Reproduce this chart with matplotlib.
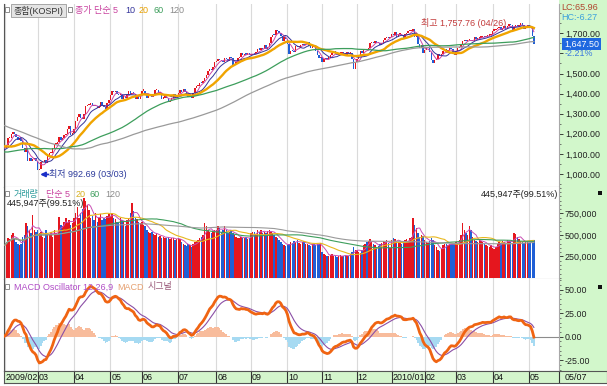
import numpy as np
import pandas as pd
import matplotlib
matplotlib.use('Agg')
import matplotlib.pyplot as plt
from matplotlib.patches import Rectangle
from matplotlib.ticker import FixedLocator, MultipleLocator

plt.rcParams['font.family'] = ['Liberation Sans', 'Noto Sans CJK KR']

# ---------------- data ----------------
# closes before the plotted window (Aug 2008 - Jan 2009), used only for MA / MACD warm-up
hist_close = [
    1583, 1567, 1563, 1561, 1571, 1576, 1568, 1548, 1552, 1538, 1520, 1530, 1523, 1527, 1500, 1510, 1505, 1490, 1474, 1474,
    1414, 1407, 1443, 1437, 1437, 1476, 1455, 1439, 1440, 1477, 1387, 1410, 1367, 1425, 1500, 1468, 1446, 1477, 1457, 1448,
    1440, 1419, 1358, 1366, 1286, 1295, 1241, 1291, 1320, 1340, 1213, 1180, 1193, 1185, 1134, 1049, 938, 946, 999, 1006, 1084, 1113,
    1124, 1146, 1181, 1092, 1096, 1150, 1127, 1108, 1073, 1088, 1102, 1075, 1062, 1004, 1003, 1028, 1043, 1040, 1068, 1076,
    1073, 1040, 1040, 1055, 1029, 1088, 1108, 1140, 1131, 1080, 1132, 1126, 1171, 1163, 1173, 1137, 1129, 1102, 1100, 1115, 1124,
    1157, 1173, 1194, 1206, 1181, 1168, 1135, 1111, 1124, 1088, 1110, 1126, 1123, 1097, 1117, 1093, 1120, 1140, 1162,
]

month_labels = ['2009/02', '03', '04', '05', '06', '07', '08', '09', '10', '11', '12',
                '2010/01', '02', '03', '04', '05']
month_days = [20, 22, 22, 19, 22, 23, 21, 22, 21, 21, 21, 20, 19, 22, 22, 4]

close = [
    # 2009/02
    1127, 1146, 1180, 1181, 1197, 1207, 1199, 1185, 1171, 1181, 1164, 1127, 1107, 1128, 1065, 1079, 1066, 1074, 1082, 1063,
    # 03
    1018, 1025, 1059, 1062, 1071, 1055, 1090, 1102, 1105, 1127, 1150, 1151, 1157, 1185, 1170, 1179, 1194, 1199, 1222, 1237, 1192, 1206,
    # 04
    1226, 1262, 1282, 1297, 1280, 1275, 1297, 1336, 1341, 1344, 1352, 1337, 1336, 1340, 1327, 1335, 1360, 1342, 1332, 1323, 1351, 1369,
    # 05
    1395, 1412, 1407, 1411, 1400, 1392, 1397, 1375, 1387, 1377, 1398, 1412, 1398, 1403, 1400, 1374, 1388, 1372, 1395,
    # 06
    1415, 1415, 1400, 1378, 1389, 1390, 1383, 1400, 1416, 1420, 1402, 1403, 1375, 1380, 1387, 1377, 1359, 1362, 1380, 1400, 1384, 1390,
    # 07
    1404, 1420, 1408, 1422, 1410, 1395, 1381, 1384, 1378, 1402, 1429, 1439, 1440, 1455, 1453, 1464, 1480, 1495, 1510, 1524, 1518, 1530, 1557,
    # 08
    1560, 1574, 1567, 1560, 1558, 1575, 1571, 1562, 1582, 1577, 1540, 1548, 1558, 1577, 1580, 1600, 1590, 1599, 1594, 1603, 1591,
    # 09
    1593, 1599, 1598, 1605, 1620, 1619, 1624, 1622, 1640, 1622, 1630, 1653, 1682, 1692, 1691, 1718, 1709, 1700, 1685, 1661, 1682, 1673,
    # 10
    1645, 1599, 1614, 1612, 1608, 1637, 1630, 1633, 1641, 1647, 1641, 1647, 1658, 1637, 1626, 1635, 1631, 1610, 1590, 1575, 1580,
    # 11
    1555, 1570, 1575, 1570, 1580, 1591, 1600, 1610, 1598, 1591, 1600, 1600, 1606, 1600, 1593, 1605, 1600, 1600, 1570, 1524, 1555,
    # 12
    1570, 1590, 1610, 1604, 1615, 1620, 1615, 1625, 1650, 1655, 1650, 1660, 1653, 1650, 1640, 1650, 1665, 1675, 1680, 1675, 1683,
    # 2010/01
    1697, 1690, 1705, 1684, 1695, 1695, 1693, 1671, 1695, 1701, 1709, 1709, 1713, 1722, 1684, 1685, 1647, 1626, 1640, 1602,
    # 02
    1616, 1626, 1627, 1605, 1567, 1552, 1566, 1571, 1595, 1587, 1598, 1613, 1620, 1604, 1615, 1626, 1620, 1600, 1594,
    # 03
    1610, 1627, 1630, 1647, 1660, 1665, 1663, 1666, 1666, 1660, 1662, 1680, 1670, 1674, 1679, 1681, 1688, 1680, 1685, 1689, 1690, 1692,
    # 04
    1713, 1714, 1720, 1725, 1730, 1715, 1724, 1735, 1722, 1734, 1745, 1740, 1715, 1730, 1740, 1735, 1740, 1752, 1740, 1720, 1725, 1741,
    # 05
    1735, 1730, 1685, 1647.50,
]

# daily volume, thousands of the axis unit
volume_k = [
    380, 420, 470, 450, 500, 520, 470, 420, 400, 380, 390, 480, 500, 640, 600, 560, 520, 730, 560, 540,
    560, 520, 540, 480, 470, 560, 520, 500, 540, 480, 560, 520, 500, 710, 620, 600, 650, 700, 640, 680, 620, 640,
    700, 760, 820, 700, 760, 800, 930, 900, 850, 790, 700, 720, 680, 760, 650, 700, 740, 680, 700, 690, 720, 740,
    720, 760, 700, 690, 650, 640, 700, 680, 650, 600, 680, 700, 760, 870, 780, 700, 690, 650, 640,
    650, 620, 600, 560, 540, 520, 540, 510, 500, 520, 480, 490, 470, 480, 460, 470, 480, 450, 470, 460, 440, 450,
    470, 450, 420, 400, 380, 370, 390, 380, 360, 400, 420, 430, 440, 460, 480, 500, 640, 600, 560, 540, 520, 540, 560,
    560, 600, 580, 540, 560, 600, 560, 520, 540, 560, 520, 500, 480, 470, 460, 480, 470, 460, 480, 450, 460,
    520, 540, 530, 500, 560, 540, 560, 520, 540, 520, 550, 560, 540, 520, 500, 480, 460, 440, 420, 400, 380, 370,
    380, 400, 420, 410, 430, 420, 440, 410, 400, 420, 430, 400, 390, 380, 370, 390, 400, 380, 390, 400, 410,
    300, 280, 270, 260, 250, 270, 280, 260, 250, 240, 260, 270, 250, 260, 270, 250, 260, 280, 300, 360, 330,
    330, 300, 290, 320, 380, 400, 420, 430, 450, 420, 400, 380, 360, 370, 400, 410, 430, 420, 440, 410, 350,
    440, 460, 450, 430, 420, 410, 400, 420, 440, 450, 430, 460, 480, 700, 620, 580, 520, 480, 500, 490,
    440, 420, 410, 430, 460, 440, 380, 360, 320, 310, 340, 380, 390, 400, 380, 390, 400, 390, 410,
    420, 410, 440, 500, 640, 560, 520, 500, 600, 560, 480, 440, 430, 420, 440, 430, 420, 400, 380, 370, 360, 380,
    350, 340, 360, 400, 420, 410, 430, 420, 410, 440, 430, 420, 410, 520, 510, 480, 450, 430, 420, 410, 420, 430,
    410, 420, 430, 445.947,
]

ma_periods = [5, 10, 20, 60, 120]
vol_ma_periods = [5, 20, 60, 120]
low_value, low_label = 992.69, '최저 992.69 (03/03)'
high_value, high_label = 1757.76, '최고 1,757.76 (04/26)'
lc_text, hc_text, chg_text = 'LC:65.96', 'HC:-6.27', '-2.21%'
vol_text = '445,947주(99.51%)'

# ---------------- computations ----------------
nh = len(hist_close)
allc = pd.Series(hist_close + close, dtype=float)
c = np.array(close, dtype=float)
o = allc.shift(1).iloc[nh:].values
x = np.arange(len(c))
up = c >= o
mas = {n: allc.rolling(n).mean().iloc[nh:].values for n in ma_periods}
ema12 = allc.ewm(span=12, adjust=False).mean()
ema26 = allc.ewm(span=26, adjust=False).mean()
macd_all = ema12 - ema26
sig_all = macd_all.ewm(span=9, adjust=False).mean()
macd = macd_all.iloc[nh:].values
sig = sig_all.iloc[nh:].values
osc = macd - sig
vol = np.array(volume_k) * 1000.0
vs = pd.Series(vol)
vmas = {n: vs.rolling(n, min_periods=1).mean().values for n in vol_ma_periods}
month_start = np.concatenate([[0], np.cumsum(month_days)[:-1]])

# ---------------- layout ----------------
W, H = 607, 386
fig = plt.figure(figsize=(W / 100, H / 100), dpi=100)
fig.patch.set_facecolor('white')
PX0, PXS = 4.6, 1.654
XL0 = (4 - PX0) / PXS
XL1 = (559 - PX0) / PXS
XLD = (607 - PX0) / PXS


def box(x0, y0, x1, y1):
    return [x0 / W, 1 - y1 / H, (x1 - x0) / W, (y1 - y0) / H]


def prect(x0, y0, x1, y1, **kw):
    fig.patches.append(Rectangle((x0 / W, 1 - y1 / H), (x1 - x0) / W, (y1 - y0) / H,
                                 transform=fig.transFigure, **kw))


def ftext(px, py, s, **kw):
    kw.setdefault('va', 'center')
    kw.setdefault('fontsize', 6.5)
    fig.text(px / W, 1 - py / H, s, **kw)


GREEN = '#d2f7cb'
prect(559, 0, 607, 371, facecolor=GREEN, edgecolor='none', zorder=-5)

UPC, DNC = '#e5161e', '#1f5fd6'
GRID = '#dadada'


def style_ax(ax):
    ax.set_xlim(XL0, XL1)
    ax.set_facecolor('white')
    ax.set_xticks(month_start)
    ax.tick_params(axis='x', length=0, labelbottom=False)
    ax.grid(axis='x', color=GRID, lw=0.8, zorder=0)
    ax.set_axisbelow(True)
    ax.yaxis.tick_right()
    ax.tick_params(axis='y', which='major', direction='out', length=3, width=0.6,
                   pad=1.2, labelsize=6.4, colors='#222222')
    ax.tick_params(axis='y', which='minor', direction='out', length=1.5, width=0.5, colors='#444444')
    ax.spines['top'].set_visible(False)
    ax.spines['left'].set_color('#555555')
    ax.spines['right'].set_color('#a8a8a8')
    ax.spines['bottom'].set_color('#8a8a8a')
    for s in ax.spines.values():
        s.set_linewidth(0.8)


# ---- price panel ----
ax1 = fig.add_axes(box(4, 4, 559, 187))
style_ax(ax1)
ax1.set_ylim(935.3, 1845.8)
body = np.maximum(np.abs(c - o), 6)
ax1.bar(x, body, bottom=np.minimum(c, o), width=0.85,
        color=np.where(up, UPC, DNC), linewidth=0, zorder=2)
ma_style = {5: ('#cf45a6', 0.7), 10: ('#34349a', 0.7), 20: ('#f0a400', 1.7),
            60: ('#3d9e5c', 0.9), 120: ('#9a9a9a', 0.9)}
for n in ma_periods:
    col, lw = ma_style[n]
    ax1.plot(x, mas[n], color=col, lw=lw, zorder=3)
yt = [1000, 1100, 1200, 1300, 1400, 1500, 1600, 1700]
ax1.yaxis.set_major_locator(FixedLocator(yt))
ax1.set_yticklabels(['' if v == 1600 else f'{v:,.2f}' for v in yt])
ax1.yaxis.set_minor_locator(MultipleLocator(50))

i_low = int(np.argmin(c))
ax1.annotate('', xy=(i_low + 1.5, low_value + 5), xytext=(i_low + 6.5, low_value + 5),
             arrowprops=dict(arrowstyle='-|>', color='#1a2fc8', lw=1.3, mutation_scale=7,
                             shrinkA=0, shrinkB=0), zorder=5)
ax1.text(i_low + 6.8, low_value + 5, low_label, color='#2c3a9c', fontsize=6.5,
         va='center', ha='left', zorder=5)
i_high = int(np.argmax(c))
ax1.text(i_high - 8.5, high_value - 8, high_label, color='#c23a3a', fontsize=6.5,
         va='center', ha='right', zorder=5)

ax1.annotate(f'{c[-1]:,.2f}', xy=(1, c[-1]), xycoords=('axes fraction', 'data'),
             xytext=(5, 0), textcoords='offset pixels', ha='left', va='center',
             color='white', fontsize=6.4,
             bbox=dict(boxstyle='square,pad=0.18', fc='#1f68e0', ec='none'), zorder=6,
             annotation_clip=False)
ax1.annotate(chg_text, xy=(1, c[-1]), xycoords=('axes fraction', 'data'),
             xytext=(6, -10), textcoords='offset pixels', ha='left', va='center',
             color='#3a78dd', fontsize=6.4, annotation_clip=False)
ftext(561, 8, lc_text, color='#b0452e')
ftext(561, 17, hc_text, color='#3aa0dc')

# title row
prect(5, 7, 9, 12, facecolor='white', edgecolor='#7a7a7a', lw=0.6)
prect(11, 4, 66, 17, facecolor='#e4e4e4', edgecolor='#9a9a9a', lw=0.6)
ftext(13, 10.5, '종합(KOSPI)', color='#333333')
prect(68, 7, 72, 12, facecolor='white', edgecolor='#7a7a7a', lw=0.6)
ftext(75, 10.5, '종가 단순 5', color='#c8409e')
ftext(125, 10.5, '10', color='#34349a')
ftext(139, 10.5, '20', color='#e8a000')
ftext(154, 10.5, '60', color='#3d9e5c')
ftext(169, 10.5, '120', color='#8c8c8c')

# ---- volume panel ----
ax2 = fig.add_axes(box(4, 187, 559, 279))
style_ax(ax2)
ax2.set_ylim(-11600, 1058000)
ax2.bar(x, vol, width=0.85, color=np.where(up, UPC, DNC), linewidth=0, zorder=2)
vma_style = {5: ('#c94fb5', 0.7), 20: ('#e8b820', 0.8), 60: ('#3d9e5c', 0.8), 120: ('#9a9a9a', 0.8)}
for n in vol_ma_periods:
    col, lw = vma_style[n]
    ax2.plot(x, vmas[n], color=col, lw=lw, zorder=3)
vt = [250000, 500000, 750000]
ax2.yaxis.set_major_locator(FixedLocator(vt))
ax2.set_yticklabels([f'{v:,}' for v in vt])
ax2.yaxis.set_minor_locator(MultipleLocator(50000))
prect(5, 191, 9, 196, facecolor='white', edgecolor='#7a7a7a', lw=0.6)
ftext(14, 194.5, '거래량', color='#2a9a9a')
ftext(46, 194.5, '단순 5', color='#c8409e')
ftext(76, 194.5, '20', color='#d8b020')
ftext(90, 194.5, '60', color='#3d9e5c')
ftext(105, 194.5, '120', color='#8c8c8c')
ftext(7, 204, vol_text, color='#222222')
ftext(558, 194.5, vol_text, color='#222222', ha='right')
prect(598, 191, 602, 195, facecolor='#111111', edgecolor='none')

# ---- MACD panel ----
ax3 = fig.add_axes(box(4, 279, 559, 371))
style_ax(ax3)
ax3.set_ylim(-36.5, 61.4)
ax3.bar(x, osc, width=1.0, color=np.where(osc >= 0, '#f8bc9c', '#a6daf2'), linewidth=0, zorder=2)
ax3.plot(x, sig, color='#8b4fa6', lw=0.8, zorder=3)
ax3.plot(x, macd, color='#f06412', lw=2.0, zorder=4)
ax3.hlines(0, x[-1], XL1, color='#8c8c8c', lw=0.8, zorder=3)
mt = [-25, 0, 25, 50]
ax3.yaxis.set_major_locator(FixedLocator(mt))
ax3.set_yticklabels([f'{v:.2f}' for v in mt])
ax3.yaxis.set_minor_locator(MultipleLocator(5))
prect(5, 284, 9, 289, facecolor='white', edgecolor='#7a7a7a', lw=0.6)
ftext(14, 287, 'MACD Oscillator 12,26,9', color='#b04cc6')
ftext(117, 287, 'MACD', color='#e6a070')
ftext(148, 287, '시그널', color='#9a5878')
prect(598, 285, 602, 289, facecolor='#111111', edgecolor='none')

# ---- date strip ----
ax4 = fig.add_axes(box(4, 371, 607, 383))
ax4.set_xlim(XL0, XLD)
ax4.set_ylim(0, 1)
ax4.set_facecolor('#d4f5cc')
ax4.set_xticks([])
ax4.set_yticks([])
for s in ax4.spines.values():
    s.set_color('#555555')
    s.set_linewidth(0.8)
for ms, lab in zip(month_start, month_labels):
    if ms > 0:
        ax4.axvline(ms, color='#333333', lw=0.8)
    ax4.text(ms + 0.5, 0.45, lab, fontsize=6.4, va='center', ha='left', color='#111111')
ax4.axvline(XL1, color='#333333', lw=0.8)
ax4.text(XL1 + 3.5, 0.45, '05/07', fontsize=6.4, va='center', ha='left', color='#111111')

fig.savefig('out.png', dpi=100, facecolor='white')
